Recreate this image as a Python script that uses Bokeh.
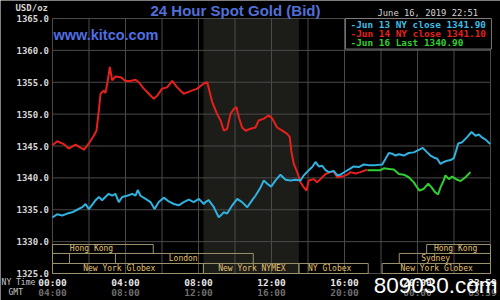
from bokeh.plotting import figure
from bokeh.models import Range1d, Label, ColumnDataSource
from bokeh.core.properties import value
from bokeh.embed import file_html
from bokeh.resources import INLINE

# ---------------- data (NY time in hours, price USD/oz) ----------------
jun13_t = [0.0, 0.26, 0.53, 0.81, 1.08, 1.35, 1.63, 1.81, 1.99, 2.18, 2.36, 2.54, 2.72, 2.90,
           3.08, 3.27, 3.45, 3.63, 3.82, 4.09, 4.37, 4.55, 4.67, 4.82, 5.10, 5.37, 5.59, 5.82,
           6.10, 6.37, 6.65, 6.92, 7.19, 7.47, 7.74, 8.02, 8.29, 8.38, 8.56, 8.84, 9.11, 9.39,
           9.57, 9.85, 10.12, 10.39, 10.67, 10.94, 11.12, 11.40, 11.58, 11.76, 11.98, 12.22,
           12.49, 12.77, 13.04, 13.32, 13.59, 13.77, 14.04, 14.23, 14.41, 14.59, 14.78, 14.96,
           15.14, 15.41, 15.60, 15.78, 16.05, 16.29, 16.51, 16.78, 17.06, 17.33, 17.70, 18.07,
           18.25, 18.43, 18.61, 18.79, 18.98, 19.25, 19.52, 19.80, 20.07, 20.29, 20.53, 20.71,
           20.89, 21.08, 21.26, 21.44, 21.63, 21.81, 21.99, 22.12, 22.23, 22.45, 22.72, 22.96,
           23.18, 23.36, 23.55, 23.73, 23.98]
jun13_p = [1333.8, 1334.3, 1334.1, 1334.4, 1334.6, 1335.0, 1335.4, 1335.9, 1335.1, 1335.8,
           1336.5, 1337.0, 1336.5, 1337.0, 1337.5, 1337.2, 1337.5, 1336.2, 1337.0, 1337.2,
           1337.5, 1337.2, 1338.1, 1337.2, 1336.7, 1336.2, 1335.1, 1336.2, 1336.9, 1336.3,
           1335.9, 1335.7, 1336.2, 1336.6, 1336.2, 1336.7, 1335.9, 1336.2, 1336.5, 1335.4,
           1333.8, 1334.6, 1334.4, 1335.7, 1336.7, 1336.2, 1335.4, 1336.5, 1337.2, 1338.5,
           1339.6, 1339.1, 1338.6, 1339.6, 1340.5, 1339.7, 1339.6, 1339.7, 1339.6, 1340.4,
           1341.2, 1341.7, 1342.5, 1341.8, 1341.9, 1341.2, 1340.9, 1341.1, 1340.4, 1340.5,
           1341.0, 1341.4, 1341.8, 1341.7, 1342.1, 1342.0, 1342.0, 1342.1, 1343.0, 1343.9,
           1343.8, 1343.5, 1343.7, 1343.5, 1343.9, 1344.0, 1344.4, 1344.7, 1344.0, 1343.5,
           1343.2, 1343.0, 1342.2, 1342.5, 1342.7, 1342.8, 1343.1, 1344.3, 1345.4, 1345.6,
           1346.4, 1347.2, 1346.6, 1346.8, 1346.3, 1346.0, 1345.3]

jun14_t = [0.0, 0.26, 0.62, 0.89, 1.26, 1.63, 1.72, 1.99, 2.26, 2.41, 2.54, 2.63, 2.81, 2.90,
           3.03, 3.14, 3.27, 3.45, 3.73, 4.00, 4.27, 4.55, 4.73, 5.00, 5.28, 5.55, 5.74, 6.01,
           6.28, 6.56, 6.83, 7.19, 7.56, 7.93, 8.29, 8.48, 8.75, 9.02, 9.21, 9.39, 9.57, 9.75,
           9.93, 10.08, 10.21, 10.39, 10.58, 10.85, 11.12, 11.30, 11.58, 11.85, 12.04, 12.31,
           12.59, 12.86, 13.00, 13.08, 13.22, 13.41, 13.59, 13.77, 13.92, 14.04, 14.32, 14.50,
           14.68, 14.96, 15.23, 15.41, 15.60, 15.87, 16.15, 16.33, 16.60, 16.88, 17.15, 17.24]
jun14_p = [1345.1, 1345.75, 1345.3, 1344.6, 1345.2, 1344.6, 1344.4, 1345.4, 1346.6, 1347.4,
           1350.6, 1353.2, 1353.7, 1353.3, 1355.3, 1357.4, 1355.3, 1355.9, 1355.8, 1355.2,
           1355.2, 1355.4, 1355.0, 1354.0, 1353.2, 1352.4, 1352.9, 1354.0, 1354.2, 1355.2,
           1354.2, 1353.2, 1353.6, 1354.0, 1354.8, 1355.0, 1351.9, 1350.0, 1349.0, 1347.4,
           1347.7, 1350.0, 1350.8, 1351.1, 1349.5, 1347.9, 1347.4, 1347.7, 1347.9, 1349.0,
           1349.3, 1349.8, 1349.3, 1347.9, 1347.4, 1346.9, 1346.4, 1344.3, 1342.2, 1340.9,
           1339.3, 1338.5, 1338.0, 1339.6, 1339.8, 1339.3, 1339.8, 1340.6, 1340.9, 1341.0,
           1340.1, 1340.2, 1340.5, 1340.9, 1340.7, 1340.9, 1341.2, 1341.3]

jun16_t = [17.26, 17.97, 18.15, 18.43, 18.70, 18.98, 19.25, 19.52, 19.80, 19.98, 20.11, 20.35,
           20.59, 20.77, 20.95, 21.13, 21.26, 21.44, 21.53, 21.72, 21.90, 22.18, 22.36, 22.63,
           22.90]
jun16_p = [1341.2, 1341.2, 1341.5, 1341.4, 1341.3, 1340.6, 1340.5, 1340.1, 1339.3, 1338.5,
           1338.0, 1338.3, 1339.1, 1338.5, 1337.8, 1337.4, 1338.5, 1339.6, 1340.4, 1339.8,
           1340.2, 1339.7, 1339.5, 1340.1, 1340.9]

legend_texts = ["-Jun 13 NY close 1341.90", "-Jun 14 NY close 1341.10", "-Jun 16 Last 1340.90"]

price_ticks = [1325, 1330, 1335, 1340, 1345, 1350, 1355, 1360, 1365]
grid_hours = [0, 2, 4, 6, 8, 10, 12, 14, 16, 18, 20, 22, 24]
time_ticks = [0, 4, 8, 12, 16, 20, 24]
ny_labels = ["00:00", "04:00", "08:00", "12:00", "16:00", "20:00", "23:59"]
gmt_labels = ["04:00", "08:00", "12:00", "16:00", "20:00", "00:00", "03:59"]

session_names = ["Hong Kong", "Hong Kong", "", "London", "Sydney",
                 "New York Globex", "New York NYMEX", "NY Globex", "New York Globex"]
session_start = [0.0, 20.5, 0.0, 3.45, 19.0, 0.0, 8.27, 13.5, 18.06]
session_end = [5.52, 24.0, 0.93, 11.0, 24.0, 8.27, 13.5, 17.3, 24.0]
session_row = [0, 0, 1, 1, 1, 2, 2, 2, 2]
session_label_at = [0.95, 20.9, 0.0, 6.37, 20.2, 1.68, 9.08, 14.0, 19.07]
nymex_open, nymex_close = 8.27, 13.5

# ---------------- figure: frame fills the whole 500x300 canvas ----------------
X0, X1 = 0.0, 24.0
Y0, Y1 = 1325.0, 1365.0
PX_H = 18.25      # pixels per hour
PX_P = 6.375      # pixels per dollar
BG = "#000000"
GRID = "#4a4a4a"
p = figure(width=500, height=300, output_backend="svg", toolbar_location=None,
           x_range=Range1d(X0 - 52 / PX_H, X1 + 10 / PX_H),
           y_range=Range1d(Y0 - 27 / PX_P, Y1 + 18 / PX_P),
           x_axis_type=None, y_axis_type=None, min_border=0,
           background_fill_color=BG, border_fill_color=BG, outline_line_color=None)

# NYMEX shaded period
p.quad(left=[nymex_open], right=[nymex_close], bottom=[Y0], top=[Y1],
       fill_color="#1c1d19", line_color=None)

# grid
p.segment(x0=grid_hours, x1=grid_hours, y0=Y0, y1=Y1, line_color=GRID, line_width=1)
p.segment(x0=X0, x1=X1, y0=price_ticks, y1=price_ticks, line_color=GRID, line_width=1)

# price tick labels
p.text(x=[X0 - 3.5 / PX_H] * len(price_ticks), y=price_ticks,
       text=[f"{v:.1f}" for v in price_ticks], text_font=value("DejaVu Sans Mono"),
       text_font_style="bold", text_font_size="9px", text_color="#d6d6d6",
       text_align="right", text_baseline="middle")

# time tick labels (NY row and GMT row); last label kept inside the canvas
tx = [t if t < X1 else X1 - 8 / PX_H for t in time_ticks]
p.text(x=tx, y=[Y0 - 9 / PX_P] * len(tx), text=ny_labels,
       text_font=value("DejaVu Sans Mono"), text_font_style="bold",
       text_font_size="9.5px", text_color="#e6e6e6", text_align="center",
       text_baseline="middle")
p.text(x=tx, y=[Y0 - 19 / PX_P] * len(tx), text=gmt_labels,
       text_font=value("DejaVu Sans Mono"), text_font_style="bold",
       text_font_size="9.5px", text_color="#6e6e6e", text_align="center",
       text_baseline="middle")

# trading sessions
row_top = [1329.55, 1328.14, 1326.57]
row_bot = [1328.14, 1326.57, 1325.0]
sess = ColumnDataSource(dict(
    left=session_start, right=session_end,
    top=[row_top[r] for r in session_row], bottom=[row_bot[r] for r in session_row],
    lx=session_label_at, ly=[(row_top[r] + row_bot[r]) / 2 for r in session_row],
    name=session_names))
p.quad(left="left", right="right", top="top", bottom="bottom", source=sess,
       fill_color=None, line_color="#9c916e", line_width=1)
p.text(x="lx", y="ly", text="name", source=sess, text_font=value("DejaVu Sans Mono"),
       text_font_size="8px", text_color="#e4c172", text_baseline="middle",
       text_align="left")

# price lines
p.line(jun14_t, jun14_p, line_color="#e5201d", line_width=2)
p.line(jun16_t, jun16_p, line_color="#2fd030", line_width=2)
p.line(jun13_t, jun13_p, line_color="#30b2e0", line_width=2)

# legend box and texts
p.quad(left=[16.05], right=[24.05], top=[Y1], bottom=[1360.2],
       fill_color=BG, line_color="#7c7c7c", line_width=1)
leg_colors = ["#3cbde6", "#e5201d", "#2fd030"]
leg_y = [1364.06, 1362.65, 1361.16]
p.text(x=[16.33] * 3, y=leg_y, text=legend_texts, text_color=leg_colors,
       text_font=value("DejaVu Sans Mono"), text_font_style="bold",
       text_font_size="9.4px", text_baseline="middle", text_align="left")

def lab(x, y, text, color, font, size, style="normal"):
    p.add_layout(Label(x=x, y=y, text=text, text_color=color, text_font=font,
                       text_font_size=size, text_font_style=style,
                       text_baseline="middle", text_align="left"))

lab(0.05, 1362.49, "www.kitco.com", "#4f6ee0", "Liberation Sans", "14.5px", "bold")
lab(5.37, 1366.25, "24 Hour Spot Gold (Bid)", "#5070d8", "Liberation Sans", "15px", "bold")
lab(17.81, 1365.0 + 5.3 / PX_P, "June 16, 2019 22:51", "#d4d4d4", "DejaVu Sans Mono", "8.8px")
lab(-2.03, 1366.57, "USD/oz", "#d4d4d4", "DejaVu Sans Mono", "9px", "bold")
lab(-2.79, 1323.59, "NY Time", "#c8c8c8", "DejaVu Sans Mono", "8px")
lab(-2.41, 1322.02, "GMT", "#c8c8c8", "DejaVu Sans Mono", "8px")
lab(17.60, 1323.1, "809030.com", "#ffffff", "Liberation Sans", "22.5px")

open("out.html", "w").write(file_html(p, INLINE))
